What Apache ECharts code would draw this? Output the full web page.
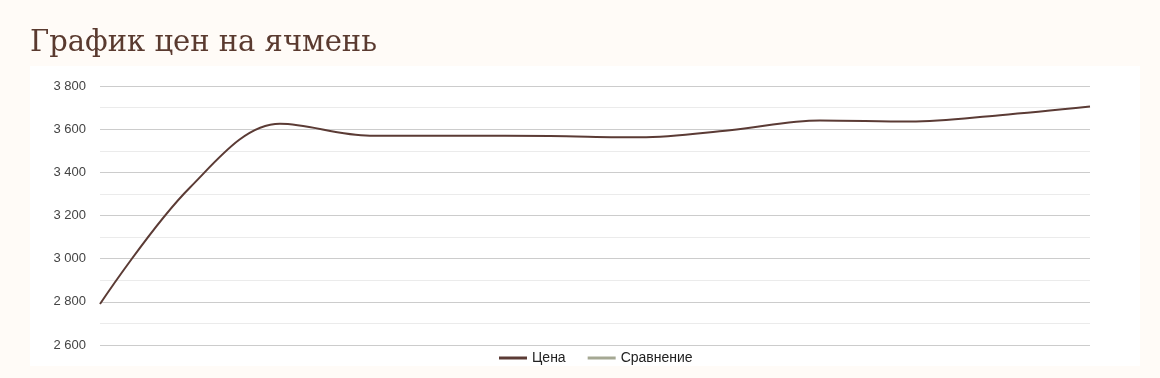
<!DOCTYPE html>
<html>
<head>
<meta charset="utf-8">
<script src="https://cdn.jsdelivr.net/npm/echarts@6/dist/echarts.min.js"></script>
<style>
html,body{margin:0;padding:0;background:#FFFBF7;}
#c{width:1160px;height:378px;}
</style>
</head>
<body>
<div id="c"></div>
<script>
var categories = ['1','2','3','4','5','6','7','8','9','10','11','12'];
var priceValues = [2790, 3330, 3625, 3570, 3570, 3568, 3562, 3595, 3640, 3635, 3665, 3705];
var compareValues = [];
var yTicks = {min: 2600, max: 3800, interval: 200};

var chart = echarts.init(document.getElementById('c'));
chart.setOption({
  backgroundColor: '#FFFBF7',
  animation: false,
  title: {
    text: 'График цен на ячмень',
    left: 25, top: 24,
    textStyle: {fontFamily: 'DejaVu Serif', fontWeight: 'normal', fontSize: 29, color: '#5a3a2f'}
  },
  graphic: [{type: 'rect', z: -10, shape: {x: 30, y: 66, width: 1110, height: 300}, style: {fill: '#ffffff'}}],
  grid: {left: 100, right: 70, top: 86, bottom: 33},
  legend: {
    left: 494, top: 346,
    itemWidth: 28, itemHeight: 3, itemGap: 22,
    icon: 'rect',
    textStyle: {fontFamily: 'Liberation Sans', fontSize: 14, color: '#222', padding: [0, 0, 0, 0]},
    data: ['Цена', 'Сравнение']
  },
  xAxis: {
    type: 'category', data: categories, boundaryGap: false,
    axisLine: {show: false}, axisTick: {show: false}, axisLabel: {show: false}, splitLine: {show: false}
  },
  yAxis: {
    type: 'value', min: yTicks.min, max: yTicks.max, interval: yTicks.interval,
    axisLine: {show: false}, axisTick: {show: false},
    axisLabel: {
      margin: 14, color: '#444', fontFamily: 'Liberation Sans', fontSize: 13,
      formatter: function (v) { return String(v).replace(/\B(?=(\d{3})+(?!\d))/g, ' '); }
    },
    splitLine: {lineStyle: {color: '#cccccc', width: 1}},
    minorTick: {show: false, splitNumber: 2},
    minorSplitLine: {show: true, lineStyle: {color: '#ebebeb', width: 1}}
  },
  series: [
    {name: 'Цена', type: 'line', data: priceValues, smooth: 0.35, showSymbol: false,
     lineStyle: {color: '#5b3b35', width: 2}, itemStyle: {color: '#5b3b35'}},
    {name: 'Сравнение', type: 'line', data: compareValues, showSymbol: false,
     lineStyle: {color: '#a5a893', width: 2}, itemStyle: {color: '#a5a893'}}
  ]
});
</script>
</body>
</html>
